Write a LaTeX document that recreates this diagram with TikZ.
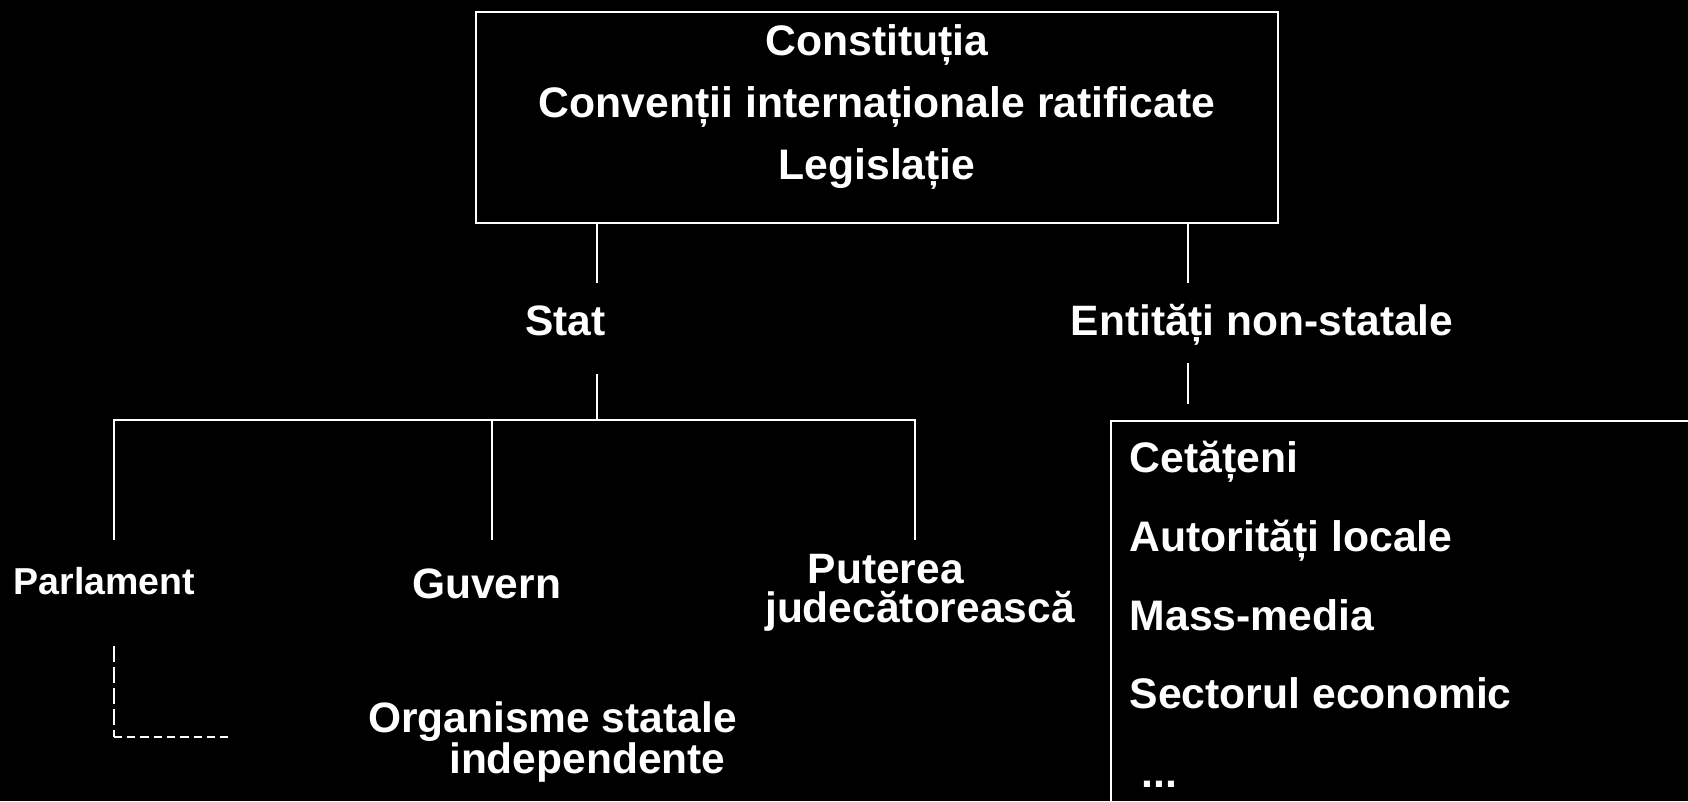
\documentclass[tikz,border=0pt]{standalone}
\usepackage{fontspec}
\setmainfont{Liberation Sans}
\begin{document}
\begin{tikzpicture}[x=1pt,y=-1pt,
  ln/.style={draw=white, line width=2pt},
  txt/.style={text=white, inner sep=0pt, font=\fontsize{42.5}{40}\selectfont\bfseries},
]
\fill[black] (0,0) rectangle (1688,801);
\useasboundingbox (0,0) rectangle (1688,801);
\clip (0,0) rectangle (1688,801);

% top box
\node[ln, minimum width=802pt, minimum height=211pt, inner sep=0pt] (top) at (877,117.5) {};
\node[txt, align=center, anchor=base, font=\fontsize{42.7}{62}\selectfont\bfseries] (law) at (877,179)
  {Constituția\\Convenții internaționale ratificate\\Legislație};

% second level
\node[txt, anchor=base] (stat) at (565.5,335) {Stat};
\node[txt, anchor=base] (nonst) at (1262,335) {Entități non-statale};

\coordinate (sA) at (597,283);
\coordinate (eA) at (1188,283);
\draw[ln] (top.south -| sA) -- (sA);
\draw[ln] (top.south -| eA) -- (eA);

% state branches
\coordinate (sB) at (597,374);
\coordinate (bus) at (597,419.5);
\coordinate (busL) at (113.7,419.5);
\coordinate (busR) at (915,419.5);
\coordinate (pA) at (113.7,540);
\coordinate (gA) at (492,540);
\coordinate (jA) at (915,540);
\draw[ln] (sB) -- (bus);
\draw[ln] (pA) -- (busL) -- (busR) -- (jA);
\draw[ln] (bus -| gA) -- (gA);

\node[txt, anchor=base west, font=\fontsize{37.5}{40}\selectfont\bfseries] (parl) at (13.5,594.7) {Parlament};
\node[txt, anchor=base west] (guv) at (412,598) {Guvern};
\node[txt, align=left, anchor=base west, font=\fontsize{42.5}{39.5}\selectfont\bfseries] (jud) at (765,622.5)
  {\hspace*{42.6pt}Puterea\\judecătorească};
\node[txt, align=left, anchor=base west, font=\fontsize{42.5}{41.3}\selectfont\bfseries] (org) at (368,773.5)
  {Organisme statale\\\hspace*{81pt}independente};

% dashed link
\coordinate (dA) at (113.7,646);
\coordinate (dC) at (113.7,737);
\coordinate (dB) at (228.7,737);
\draw[ln, dash pattern=on 15.7pt off 5.4pt] (dA) -- (dC);
\draw[ln, dash pattern=on 8.3pt off 5pt] (dC) -- (dB);

% non-state entities
\coordinate (eB) at (1188,363);
\coordinate (eC) at (1188,404);
\draw[ln] (eB) -- (eC);
\node[ln, anchor=north west, minimum width=700pt, minimum height=450pt, inner sep=0pt] (ent) at (1110,419.5) {};
\node[txt, align=left, anchor=base west, font=\fontsize{42.7}{78.55}\selectfont\bfseries] (items) at (1129.5,787.1)
  {Cetățeni\\Autorități locale\\Mass-media\\Sectorul economic\\\hspace*{11.7pt}...};
\end{tikzpicture}
\end{document}
